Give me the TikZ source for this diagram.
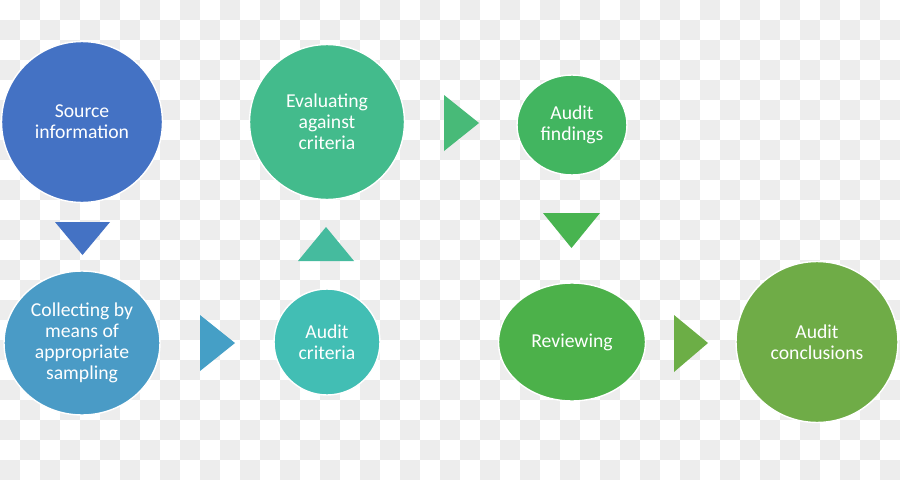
\documentclass[tikz,border=0pt]{standalone}
\usepackage{fontspec}
\setmainfont{Carlito}
\usepackage{xcolor}
\usepackage{tikz}
\usetikzlibrary{shapes.geometric,positioning}
\definecolor{check}{HTML}{EDEDED}
\definecolor{csrc}{HTML}{4472C4}
\definecolor{ccoll}{HTML}{4A9BC6}
\definecolor{ceval}{HTML}{43BB8C}
\definecolor{cfind}{HTML}{42B560}
\definecolor{ccrit}{HTML}{42BEB4}
\definecolor{crev}{HTML}{4CB14A}
\definecolor{cconc}{HTML}{6FAC47}
\definecolor{tdown}{HTML}{4472C4}
\definecolor{tcoll}{HTML}{459FC6}
\definecolor{tcrit}{HTML}{45BB9E}
\definecolor{teval}{HTML}{48BA78}
\definecolor{tfind}{HTML}{48B450}
\definecolor{trev}{HTML}{6CAE46}

\begin{document}
\begin{tikzpicture}[x=0.02cm,y=-0.02cm,
  stage/.style={ellipse,draw=white,line width=0.8pt,inner sep=0pt,
    text=white,align=center,font=\fontsize{11.2}{12}\selectfont}]
  \useasboundingbox (0,0) rectangle (900,480);
  % checker background
  \foreach \x in {0,40,...,880} {
    \foreach \y in {20,60,...,460} {
      \fill[check] (\x,\y) rectangle ++(20,20);
    }
  }
  \foreach \x in {20,60,...,880} {
    \foreach \y in {0,40,...,440} {
      \fill[check] (\x,\y) rectangle ++(20,20);
    }
  }
  % stages
  \node[stage,fill=csrc,minimum width=3.22cm,minimum height=3.22cm] (src) at (82,122) {Source\\information};
  \node[stage,fill=ccoll,minimum width=3.12cm,minimum height=2.88cm] (coll) at (82,343) {Collecting by\\means of\\appropriate\\sampling};
  \node[stage,fill=ccrit,minimum width=2.12cm,minimum height=2.12cm] (crit) at (327,342) {Audit\\criteria};
  \node[stage,fill=ceval,minimum width=3.1cm,minimum height=3.1cm] (eval) at (327,122) {Evaluating\\against\\criteria};
  \node[stage,fill=cfind,minimum width=2.2cm,minimum height=2.0cm] (find) at (572,125) {Audit\\findings};
  \node[stage,fill=crev,minimum width=2.94cm,minimum height=2.36cm] (rev) at (572,342) {Reviewing};
  \node[stage,fill=cconc,minimum width=3.24cm,minimum height=3.22cm] (conc) at (817,342) {Audit\\conclusions};
  % triangles
  \fill[tdown] (55,222) -- (110,222) -- (82.5,255) -- cycle;
  \fill[tcoll] (200,315) -- (235,343) -- (200,371) -- cycle;
  \fill[tcrit] (298,261) -- (326,227) -- (354,261) -- cycle;
  \fill[teval] (444,95) -- (479,123) -- (444,151) -- cycle;
  \fill[tfind] (543,213) -- (600,213) -- (571.5,248) -- cycle;
  \fill[trev] (674,315) -- (708,343) -- (674,372) -- cycle;
\end{tikzpicture}
\end{document}
